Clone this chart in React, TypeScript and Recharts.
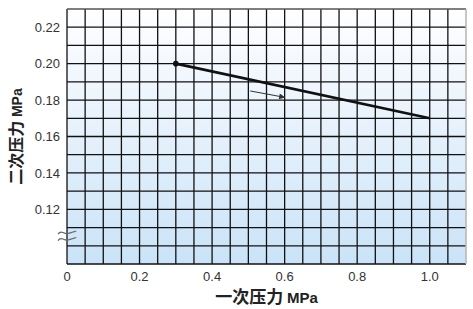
import React from "react";
import {
  LineChart,
  Line,
  XAxis,
  YAxis,
  ReferenceLine,
  ReferenceDot,
  ReferenceArea,
  Label,
} from "recharts";

const primaryPressure = [0.3, 1.0];
const secondaryPressure = [0.2, 0.17];
const xTicks = [0, 0.2, 0.4, 0.6, 0.8, 1.0];
const yTicks = [0.12, 0.14, 0.16, 0.18, 0.2, 0.22];
const xGrid = [0, 0.05, 0.1, 0.15, 0.2, 0.25, 0.3, 0.35, 0.4, 0.45, 0.5, 0.55, 0.6, 0.65, 0.7, 0.75, 0.8, 0.85, 0.9, 0.95, 1.0, 1.05];
const yGrid = [0.09, 0.1, 0.11, 0.12, 0.13, 0.14, 0.15, 0.16, 0.17, 0.18, 0.19, 0.2, 0.21, 0.22];
const xDomain = [0, 1.1];
const yDomain = [0.09, 0.23];
const arrowFrom = { x: 0.505, y: 0.185 };
const arrowTo = { x: 0.6, y: 0.1815 };
const breakMark = { x: 0, y: 0.1048 };

const data = primaryPressure.map((x, i) => ({ x, y: secondaryPressure[i] }));

const tickStyle = { fontFamily: "Liberation Sans, Arial, sans-serif", fontSize: 13, fill: "#333" };
const cjk = "'Noto Sans CJK SC', 'Liberation Sans', sans-serif";

const renderDot = (props: any) => {
  const { cx, cy, index } = props;
  if (index !== 0) return <g key={`d${index}`} />;
  return <circle key={`d${index}`} cx={cx} cy={cy} r={2.8} fill="#111" />;
};

const BreakShape = (props: any) => {
  const { cx, cy } = props;
  const wave = (y: number) =>
    `M ${cx - 9} ${y} q 2 -3 5 -1.5 t 5 1 t 5 -1.5 t 3 -0.5`;
  return (
    <g>
      <path d={wave(cy - 3)} fill="none" stroke="#666" strokeWidth={1.2} />
      <path d={wave(cy + 3.5)} fill="none" stroke="#666" strokeWidth={1.2} />
    </g>
  );
};

const XLabel = (props: any) => {
  const vb = props.viewBox;
  const cx = vb.x + vb.width / 2;
  return (
    <text x={cx} y={303} textAnchor="middle" fill="#222" fontWeight="bold" fontFamily={cjk}>
      <tspan fontSize={17}>一次压力 </tspan>
      <tspan fontSize={15} fontFamily="Liberation Sans, Arial, sans-serif">MPa</tspan>
    </text>
  );
};

const YLabel = (props: any) => {
  const vb = props.viewBox;
  const cy = vb.y + vb.height / 2;
  const cx = 22;
  return (
    <text
      x={cx}
      y={cy}
      transform={`rotate(-90 ${cx} ${cy})`}
      textAnchor="middle"
      fill="#222"
      fontWeight="bold"
      fontFamily={cjk}
    >
      <tspan fontSize={16}>二次压力 </tspan>
      <tspan fontSize={14} fontFamily="Liberation Sans, Arial, sans-serif">MPa</tspan>
    </text>
  );
};

export default function App() {
  return (
    <div style={{ position: "absolute", left: 0, top: 0 }}>
      <LineChart width={473} height={309} data={data} margin={{ top: 9, right: 7, bottom: 0, left: 0 }}>
        <defs>
          <linearGradient id="bg" x1="0" y1="0" x2="0" y2="1">
            <stop offset="0%" stopColor="#ffffff" />
            <stop offset="8%" stopColor="#fbfcff" />
            <stop offset="100%" stopColor="#cae3f8" />
          </linearGradient>
          <marker id="arrow" viewBox="0 0 10 10" refX="9" refY="5" markerWidth="12" markerHeight="6" markerUnits="userSpaceOnUse" orient="auto">
            <path d="M0,0 L10,5 L0,10 z" fill="#333" />
          </marker>
        </defs>
        <XAxis
          dataKey="x"
          type="number"
          domain={xDomain}
          ticks={xTicks}
          tickFormatter={(v: number) => (v === 0 ? "0" : v.toFixed(1))}
          axisLine={false}
          tickLine={false}
          tickSize={0}
          tickMargin={8}
          height={45}
          tick={tickStyle}
          interval={0}
        >
          <Label content={XLabel} />
        </XAxis>
        <YAxis
          dataKey="y"
          type="number"
          domain={yDomain}
          ticks={yTicks}
          tickFormatter={(v: number) => v.toFixed(2)}
          axisLine={false}
          tickLine={false}
          tickSize={0}
          tickMargin={7}
          width={67}
          tick={tickStyle}
          interval={0}
        >
          <Label content={YLabel} />
        </YAxis>
        <ReferenceArea
          x1={xDomain[0]}
          x2={xDomain[1]}
          y1={yDomain[0]}
          y2={yDomain[1]}
          fill="url(#bg)"
          fillOpacity={1}
          stroke="none"
        />
        {xGrid.map((v) => (
          <ReferenceLine key={`vx${v}`} x={v} stroke="#111" strokeWidth={1.3} />
        ))}
        {yGrid.map((v) => (
          <ReferenceLine key={`hy${v}`} y={v} stroke="#111" strokeWidth={1.3} />
        ))}
        <ReferenceLine y={0.23} stroke="#555" strokeWidth={1.3} />
        <ReferenceLine x={1.1} stroke="#b5b5b5" strokeWidth={1.5} />
        <ReferenceLine
          segment={[arrowFrom, arrowTo]}
          stroke="#333"
          strokeWidth={1}
          markerEnd="url(#arrow)"
        />
        <ReferenceDot x={breakMark.x} y={breakMark.y} shape={BreakShape} ifOverflow="visible" />
        <Line
          type="linear"
          dataKey="y"
          stroke="#111"
          strokeWidth={2.6}
          dot={renderDot}
          activeDot={false}
          isAnimationActive={false}
        />
      </LineChart>
    </div>
  );
}
